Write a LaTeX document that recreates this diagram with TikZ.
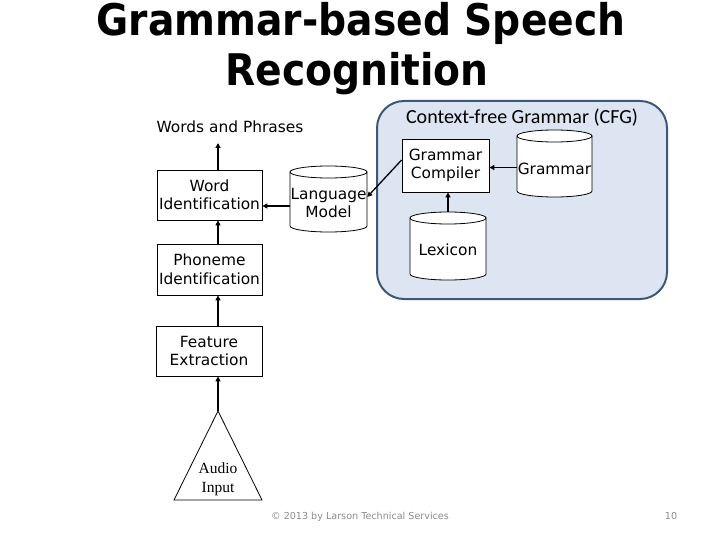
\documentclass[tikz,border=0pt]{standalone}
\usepackage{fontspec}
\setmainfont{DejaVu Sans}[Ligatures=NoCommon]
\newfontfamily\carl{Carlito}[Ligatures=NoCommon]
\newfontfamily\titlef{DejaVu Sans Condensed}[Ligatures=NoCommon]
\newfontfamily\serf{Liberation Serif}
\usetikzlibrary{arrows.meta}
\definecolor{cfgfill}{HTML}{DCE5F1}
\definecolor{cfgdraw}{HTML}{3F5776}
\definecolor{footgray}{HTML}{8C8C8C}
\tikzset{
  box/.style={draw=black, line width=0.8pt, fill=white, inner sep=0pt, align=center,
    font=\fontsize{15.4}{18.5}\selectfont},
  cylbox/.style={inner sep=0pt},
  lab/.style={align=center, font=\fontsize{15.4}{18.5}\selectfont},
  cylline/.style={draw=black, line width=0.8pt, fill=white},
  arr/.style={line width=1.8pt, -{Triangle[length=5pt,width=5pt]}},
  thinarr/.style={line width=1.3pt, -{Triangle[length=5pt,width=5pt]}},
  titlest/.style={anchor=base, inner sep=0pt, font=\titlef\bfseries\fontsize{43.6}{43}\selectfont},
}
% name, cx, top, bottom, rx
\newcommand\mycyl[5]{%
  \path[cylline] (#2-#5,#3+6) -- (#2-#5,#4-6)
     arc[start angle=180,end angle=360,x radius=#5pt,y radius=6pt]
     -- (#2+#5,#3+6) -- cycle;
  \draw[cylline] (#2,#3+6) ellipse [x radius=#5pt, y radius=6pt];
}
\begin{document}
\begin{tikzpicture}[x=1pt,y=-1pt]
\useasboundingbox (0,0) rectangle (720,540);
\fill[white] (0,0) rectangle (720,540);

% title
\node[titlest] (title1) at (361,35.5) {Grammar-based Speech};
\node[titlest] (title2) at (357,86) {Recognition};

% CFG container
\draw[fill=cfgfill, draw=cfgdraw, line width=2pt, rounded corners=27pt] (377,101) rectangle (667,299);
\node[anchor=base, inner sep=0pt, font=\carl\fontsize{20}{24}\selectfont] (cfg) at (522,124) {Context-free Grammar (CFG)};

% left column
\coordinate (ax) at (218,0);
\node[anchor=base, inner sep=0pt, font=\fontsize{15.4}{18}\selectfont] (wp) at (230,133) {Words and Phrases};
\node[box, minimum width=105pt, minimum height=50pt] (word) at (209.5,195) {Word\\Identification};
\node[box, minimum width=105pt, minimum height=51pt] (phon) at (209.5,269.5) {Phoneme\\Identification};
\node[box, minimum width=106pt, minimum height=50pt] (feat) at (209,351) {Feature\\Extraction};

% triangle
\coordinate (apex) at (218,411);
\coordinate (bl) at (174,500);
\coordinate (br) at (262,500);
\draw[line width=0.8pt] (apex) -- (bl) -- (br) -- cycle;
\node[align=center, inner sep=0pt, font=\serf\fontsize{15.5}{19}\selectfont] (audio) at (218,479) {Audio\\Input};

% cylinders
\mycyl{lm}{328.5}{166}{232}{38.5}
\node[cylbox, minimum width=77pt, minimum height=66pt, label={[lab, yshift=-4pt]center:{Language\\Model}}] (lm) at (328.5,199) {};
\mycyl{gr}{554.5}{130}{197}{37.5}
\node[cylbox, minimum width=75pt, minimum height=67pt, label={[lab, yshift=-5pt]center:{Grammar}}] (gr) at (554.5,163.5) {};
\mycyl{lex}{448}{212}{280}{38}
\node[cylbox, minimum width=76pt, minimum height=68pt, label={[lab, yshift=-4pt]center:{Lexicon}}] (lex) at (448,246) {};

% grammar compiler
\node[box, minimum width=87pt, minimum height=53pt] (gc) at (445.5,165.5) {Grammar\\Compiler};

% connectors
\coordinate (wpend) at (218,143);
\draw[arr] (word.north -| ax) -- (wpend);
\draw[arr] (phon.north -| ax) -- (word.south -| ax);
\draw[arr] (feat.north -| ax) -- (phon.south -| ax);
\draw[arr] (apex) -- (feat.south -| ax);
\draw[arr] ([yshift=-7pt]lm.west) -- ([yshift=-7pt]lm.west -| word.east);
\draw[thinarr] ([yshift=5.5pt]gc.west) -- ([yshift=2pt]lm.east);
\draw[arr] ([yshift=-4pt]gr.west) -- ([yshift=-4pt]gr.west -| gc.east);
\draw[arr] (lex.north) -- (lex.north |- gc.south);

% footer
\node[anchor=base, inner sep=0pt, text=footgray, font=\fontsize{9.6}{11}\selectfont] (foot) at (360,519) {© 2013 by Larson Technical Services};
\node[anchor=base, inner sep=0pt, text=footgray, font=\fontsize{9.6}{11}\selectfont] (page) at (671,519) {10};
\end{tikzpicture}
\end{document}
